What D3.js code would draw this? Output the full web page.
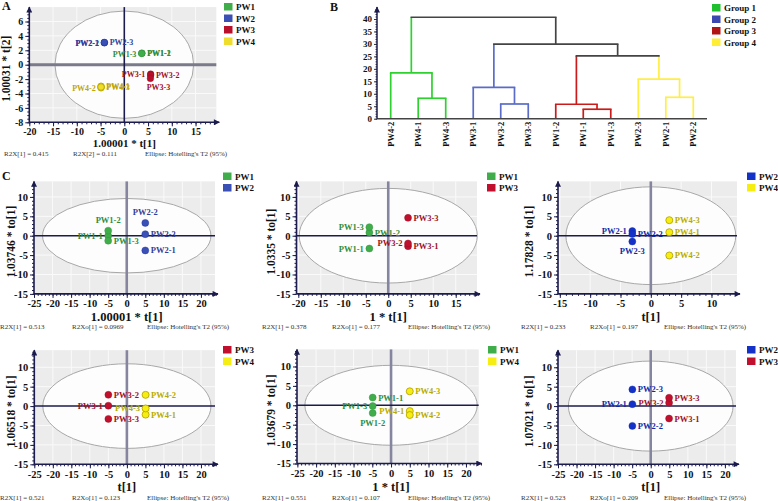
<!DOCTYPE html>
<html><head><meta charset="utf-8">
<script src="https://cdn.jsdelivr.net/npm/d3@7"></script>
<style>body{margin:0;background:#fff}svg{display:block}</style>
</head><body>
<svg id="chart" width="778" height="501"></svg>
<script>
// ---------------- DATA ----------------
const groupNames = ["PW1", "PW2", "PW3", "PW4"];
const dendroGroupNames = ["Group 1", "Group 2", "Group 3", "Group 4"];

// Panel A: PCA scores
const aIds = ["PW1-1","PW1-2","PW1-3","PW2-1","PW2-2","PW2-3","PW3-1","PW3-2","PW3-3","PW4-1","PW4-2","PW4-3"];
const aT1  = [3.7, 3.7, 3.65, -4.2, -4.2, -4.2, 5.55, 5.55, 5.5, -4.9, -4.9, -4.9];
const aT2  = [1.6, 1.6, 1.55, 3.05, 3.05, 3.1, -1.3, -1.45, -1.9, -3.0, -3.2, -3.1];
const aEllipse = [14.6, 7.45];
const aFoot = ["R2X[1] = 0.415", "R2X[2] = 0.111", "Ellipse: Hotelling's T2 (95%)"];

// Panel B: dendrogram
const dendroLeaves = ["PW4-2","PW4-1","PW4-3","PW3-1","PW3-2","PW3-3","PW1-2","PW1-1","PW1-3","PW2-3","PW2-1","PW2-2"];
const leafGroup = {"PW4": 0, "PW3": 1, "PW1": 2, "PW2": 3};
const mergeA = ["PW4-1","PW3-2","PW1-1","PW2-1","PW4-2","PW3-1","PW1-2","PW2-3","m6","m5","m4"];
const mergeB = ["PW4-3","PW3-3","PW1-3","PW2-2","m0","m1","m2","m3","m7","m8","m9"];
const mergeHeight = [8.2, 5.9, 3.8, 8.6, 18.4, 12.6, 5.8, 15.9, 25.2, 29.9, 40.7];

// Panel C: OPLS-DA pairwise scores
const c1Ids = ["PW1-1","PW1-2","PW1-3","PW2-1","PW2-2","PW2-3"];
const c1T  = [-5, -5, -5, 5, 5, 5];
const c1To = [0, 1.3, -1.3, -3.8, 3.3, 0.4];
const c1Ellipse = [22.7, 9.6];
const c1Foot = ["R2X[1] = 0.513", "R2Xo[1] = 0.0969", "Ellipse: Hotelling's T2 (95%)"];

const c2Ids = ["PW1-1","PW1-2","PW1-3","PW3-1","PW3-2","PW3-3"];
const c2T  = [-4.2, -4.2, -4.2, 4.4, 4.4, 4.4];
const c2To = [-3.3, 0.8, 2.2, -2.7, -2.0, 4.6];
const c2Ellipse = [19.8, 12.2];
const c2Foot = ["R2X[1] = 0.378", "R2Xo[1] = 0.177", "Ellipse: Hotelling's T2 (95%)"];

const c3Ids = ["PW2-1","PW2-2","PW2-3","PW4-1","PW4-2","PW4-3"];
const c3T  = [-3.05, -3.05, -3.05, 3.05, 3.05, 3.05];
const c3To = [1.2, 0.45, -1.5, 0.9, -5.1, 4.0];
const c3Ellipse = [14.0, 12.6];
const c3Foot = ["R2X[1] = 0.233", "R2Xo[1] = 0.197", "Ellipse: Hotelling's T2 (95%)"];

const d1Ids = ["PW3-1","PW3-2","PW3-3","PW4-1","PW4-2","PW4-3"];
const d1T  = [-5, -5, -5, 5.05, 5.05, 5.05];
const d1To = [0.1, 2.9, -3.3, -2.2, 2.9, -0.6];
const d1Ellipse = [22.7, 10.9];
const d1Foot = ["R2X[1] = 0.521", "R2Xo[1] = 0.123", "Ellipse: Hotelling's T2 (95%)"];

const d2Ids = ["PW1-1","PW1-2","PW1-3","PW4-1","PW4-2","PW4-3"];
const d2T  = [-4.9, -4.9, -4.9, 5.0, 5.0, 5.0];
const d2To = [2.0, -2.0, -0.2, -1.5, -2.5, 3.6];
const d2Ellipse = [23.0, 10.3];
const d2Foot = ["R2X[1] = 0.551", "R2Xo[1] = 0.107", "Ellipse: Hotelling's T2 (95%)"];

const d3Ids = ["PW2-1","PW2-2","PW2-3","PW3-1","PW3-2","PW3-3"];
const d3T  = [-4.95, -4.95, -4.95, 4.95, 4.95, 4.95];
const d3To = [0.5, -5.1, 4.3, -3.2, 0.85, 2.15];
const d3Ellipse = [22.2, 11.6];
const d3Foot = ["R2X[1] = 0.523", "R2Xo[1] = 0.209", "Ellipse: Hotelling's T2 (95%)"];

// ---------------- STYLE ----------------
const SERIF = "'Liberation Serif','Times New Roman',serif";
const NAVY = "#1b1b4d";
const palA = {PW1: "#3fae4a", PW2: "#3a50b4", PW3: "#b8102a", PW4: "#f0dc2a"};
const palB = {PW1: "#3fae4a", PW2: "#1432c8", PW3: "#c0102e", PW4: "#f6ee12"};
const txtA = {PW1: "#2e8c3a", PW2: "#30409c", PW3: "#a00e22", PW4: "#c2a600"};
const txtB = {PW1: "#2e8c3a", PW2: "#1228a8", PW3: "#a00e22", PW4: "#b5ab00"};
const strokeCol = {PW1: "#2e8c3a", PW2: "#1228a8", PW3: "#900a20", PW4: "#b8a800"};

const svg = d3.select("#chart");
const defs = svg.append("defs");
defs.append("marker").attr("id", "arrow").attr("viewBox", "0 0 10 10")
  .attr("refX", 9).attr("refY", 5).attr("markerWidth", 7).attr("markerHeight", 6)
  .attr("markerUnits", "userSpaceOnUse").attr("orient", "auto")
  .append("path").attr("d", "M0,0 L10,5 L0,10 Z").attr("fill", NAVY);

function range(a, b, s) { const r = []; for (let v = a; v <= b + 1e-9; v += s) r.push(+v.toFixed(4)); return r; }

function drawScatter(p) {
  const g = svg.append("g");
  const x = d3.scaleLinear().domain(p.xDom).range(p.xRange);
  const y = d3.scaleLinear().domain(p.yDom).range(p.yRange);
  const [x0, x1] = p.xRange, [y0, y1] = p.yRange;
  g.append("rect").attr("x", x0).attr("y", y1).attr("width", x1 - x0 - 3).attr("height", y0 - y1).attr("fill", "#ececec");
  p.xTicks.forEach(t => { if (x(t) > x0 + 1) g.append("line").attr("x1", x(t)).attr("x2", x(t)).attr("y1", y1).attr("y2", y0).attr("stroke", "#fafafa").attr("stroke-width", 1); });
  p.yTicks.forEach(t => { if (y(t) < y0 - 1) g.append("line").attr("x1", x0).attr("x2", x1 - 3).attr("y1", y(t)).attr("y2", y(t)).attr("stroke", "#fafafa").attr("stroke-width", 1); });
  g.append("ellipse").attr("cx", x(0)).attr("cy", y(0))
    .attr("rx", x(p.ellipse[0]) - x(0)).attr("ry", y(0) - y(p.ellipse[1]))
    .attr("fill", "#fdfdfd").attr("stroke", "#a8a8a8").attr("stroke-width", 1);
  // zero lines
  if (p.style === "A") {
    g.append("line").attr("x1", x0).attr("x2", x1 - 3).attr("y1", y(0)).attr("y2", y(0)).attr("stroke", "#7a7a8a").attr("stroke-width", 3);
    g.append("line").attr("x1", x(0)).attr("x2", x(0)).attr("y1", y0).attr("y2", y1).attr("stroke", NAVY).attr("stroke-width", 1.6);
  } else {
    g.append("line").attr("x1", x(0)).attr("x2", x(0)).attr("y1", y0).attr("y2", y1).attr("stroke", "#8585a0").attr("stroke-width", 2.6);
    g.append("line").attr("x1", x0).attr("x2", x1 - 3).attr("y1", y(0)).attr("y2", y(0)).attr("stroke", NAVY).attr("stroke-width", 1.5);
  }
  // axes
  const fmt = d => String(d);
  const xa = g.append("g").attr("transform", `translate(0,${y0})`)
    .call(d3.axisBottom(x).tickValues(p.xTicks).tickSize(4).tickPadding(2).tickFormat(fmt));
  const xm = g.append("g").attr("transform", `translate(0,${y0})`)
    .call(d3.axisBottom(x).tickValues(p.xMinor).tickSize(2).tickFormat(""));
  const ya = g.append("g").attr("transform", `translate(${x0},0)`)
    .call(d3.axisLeft(y).tickValues(p.yTicks).tickSize(4).tickPadding(2).tickFormat(fmt));
  const ym = g.append("g").attr("transform", `translate(${x0},0)`)
    .call(d3.axisLeft(y).tickValues(p.yMinor).tickSize(2).tickFormat(""));
  [xa, xm, ya, ym].forEach(a => {
    a.select(".domain").remove();
    a.selectAll("line").attr("stroke", NAVY).attr("stroke-width", 1);
    a.selectAll("text").attr("font-family", SERIF).attr("font-weight", "bold")
      .attr("font-size", p.tickFont).attr("fill", "#111");
  });
  g.append("line").attr("x1", x0).attr("x2", x1).attr("y1", y0).attr("y2", y0)
    .attr("stroke", NAVY).attr("stroke-width", 1.6).attr("marker-end", "url(#arrow)");
  g.append("line").attr("x1", x0).attr("x2", x0).attr("y1", y0).attr("y2", y1)
    .attr("stroke", NAVY).attr("stroke-width", 1.6).attr("marker-end", "url(#arrow)");
  // points
  const pts = p.ids.map((id, i) => ({id, grp: id.slice(0, 3), t: p.xs[i], u: p.ys[i], side: p.sides[i]}));
  pts.forEach(d => {
    g.append("circle").attr("cx", x(d.t)).attr("cy", y(d.u)).attr("r", p.r)
      .attr("fill", p.pal[d.grp]).attr("stroke", strokeCol[d.grp]).attr("stroke-width", d.grp === "PW4" ? 0.9 : 0.4);
  });
  pts.forEach(d => {
    let dx = 0, dy = 0, anchor = "middle";
    const o = p.r + 2;
    if (d.side === "r") { dx = o; dy = 3; anchor = "start"; }
    else if (d.side === "l") { dx = -o; dy = 3; anchor = "end"; }
    else if (d.side === "a") { dx = 0; dy = -o - 2; anchor = "middle"; }
    else if (d.side === "b") { dx = 0; dy = o + 7; anchor = "middle"; }
    else if (d.side === "br") { dx = 8; dy = o + 6; anchor = "middle"; }
    g.append("text").attr("x", x(d.t) + dx).attr("y", y(d.u) + dy).attr("text-anchor", anchor)
      .attr("font-family", SERIF).attr("font-weight", "bold").attr("font-size", p.labFont)
      .attr("fill", p.txt[d.grp]).text(d.id);
  });
  // legend
  p.legend.forEach((k, i) => {
    g.append("rect").attr("x", p.legX).attr("y", p.legY + i * 11.5).attr("width", 8.5).attr("height", 7.5).attr("fill", p.pal[k]);
    g.append("text").attr("x", p.legX + 12).attr("y", p.legY + i * 11.5 + 7).attr("font-family", SERIF)
      .attr("font-weight", "bold").attr("font-size", 9).attr("fill", "#111").text(k);
  });
  // titles
  g.append("text").attr("transform", `translate(${p.yLabX},${(y0 + y1) / 2 + 4}) rotate(-90)`).attr("text-anchor", "middle")
    .attr("font-family", SERIF).attr("font-weight", "bold").attr("font-size", 11.5).attr("fill", "#111").text(p.yLabel);
  g.append("text").attr("x", x(0)).attr("y", p.xLabY).attr("text-anchor", "middle")
    .attr("font-family", SERIF).attr("font-weight", "bold").attr("font-size", p.xLabFont).attr("fill", "#111").text(p.xLabel);
  p.foot.forEach((t, i) => {
    g.append("text").attr("x", p.footX[i]).attr("y", p.footY).attr("font-family", SERIF)
      .attr("font-size", 7).attr("fill", "#333").text(t);
  });
}

// Panel A
drawScatter({
  style: "A", xDom: [-20, 20], xRange: [29.3, 219.3], yDom: [-8, 8], yRange: [122.3, 7.1],
  xTicks: range(-20, 15, 5), xMinor: range(-20, 19, 1), yTicks: range(-8, 6, 2), yMinor: range(-8, 7.5, 0.5),
  ids: aIds, xs: aT1, ys: aT2, sides: ["r","r","l","l","l","r","l","r","br","r","l","r"],
  ellipse: aEllipse, pal: palA, txt: txtA, r: 3.3, labFont: 8, tickFont: 10,
  legend: groupNames, legX: 224, legY: 3,
  yLabel: "1.00031 * t[2]", yLabX: 10, xLabel: "1.00001 * t[1]", xLabY: 146.5, xLabFont: 11,
  foot: aFoot, footX: [4, 73, 145], footY: 156
});

const cTicksY = range(-15, 10, 5), cMinorY = range(-15, 13, 1);
// Row C
drawScatter({
  style: "C", xDom: [-25, 24.6], xRange: [34, 218], yDom: [-15, 14], yRange: [293.9, 181.4],
  xTicks: range(-25, 20, 5), xMinor: range(-25, 24, 1), yTicks: cTicksY, yMinor: cMinorY,
  ids: c1Ids, xs: c1T, ys: c1To, sides: ["l","a","r","r","a","r"],
  ellipse: c1Ellipse, pal: palA, txt: txtA, r: 3.5, labFont: 8.5, tickFont: 10.5,
  legend: ["PW1", "PW2"], legX: 223, legY: 172.5,
  yLabel: "1.03746 * to[1]", yLabX: 15, xLabel: "1.00001 * t[1]", xLabY: 321, xLabFont: 12.5,
  foot: c1Foot, footX: [0, 72, 147], footY: 328.5
});
drawScatter({
  style: "C", xDom: [-20.4, 20.4], xRange: [296.5, 480], yDom: [-15, 14], yRange: [293.9, 181.4],
  xTicks: range(-20, 15, 5), xMinor: range(-20, 20, 1), yTicks: cTicksY, yMinor: cMinorY,
  ids: c2Ids, xs: c2T, ys: c2To, sides: ["l","r","l","r","l","r"],
  ellipse: c2Ellipse, pal: palB, txt: txtB, r: 3.5, labFont: 8.5, tickFont: 10.5,
  legend: ["PW1", "PW3"], legX: 487, legY: 172.5,
  yLabel: "1.0335 * to[1]", yLabX: 275, xLabel: "1 * t[1]", xLabY: 321, xLabFont: 12.5,
  foot: c2Foot, footX: [262, 332, 408], footY: 328.5
});
drawScatter({
  style: "C", xDom: [-15.3, 14.7], xRange: [558, 740], yDom: [-15, 14], yRange: [293.9, 181.4],
  xTicks: range(-15, 10, 5), xMinor: range(-15, 14, 1), yTicks: cTicksY, yMinor: cMinorY,
  ids: c3Ids, xs: c3T, ys: c3To, sides: ["l","r","b","r","r","r"],
  ellipse: c3Ellipse, pal: palB, txt: txtB, r: 3.5, labFont: 8.5, tickFont: 10.5,
  legend: ["PW2", "PW4"], legX: 747, legY: 172.5,
  yLabel: "1.17828 * to[1]", yLabX: 533, xLabel: "t[1]", xLabY: 321, xLabFont: 12.5,
  foot: c3Foot, footX: [521, 590, 664], footY: 328.5
});
// Row D
drawScatter({
  style: "C", xDom: [-25, 24.6], xRange: [34.3, 218], yDom: [-15, 14.4], yRange: [464.3, 350.2],
  xTicks: range(-25, 20, 5), xMinor: range(-25, 24, 1), yTicks: cTicksY, yMinor: range(-15, 14, 1),
  ids: d1Ids, xs: d1T, ys: d1To, sides: ["l","r","r","r","r","l"],
  ellipse: d1Ellipse, pal: palB, txt: txtB, r: 3.5, labFont: 8.5, tickFont: 10.5,
  legend: ["PW3", "PW4"], legX: 223, legY: 346,
  yLabel: "1.06518 * to[1]", yLabX: 15, xLabel: "t[1]", xLabY: 491, xLabFont: 12.5,
  foot: d1Foot, footX: [0, 72, 147], footY: 499.5
});
drawScatter({
  style: "C", xDom: [-25.1, 24.2], xRange: [297, 481.7], yDom: [-15, 14.4], yRange: [463.5, 349.4],
  xTicks: range(-25, 20, 5), xMinor: range(-25, 24, 1), yTicks: cTicksY, yMinor: range(-15, 14, 1),
  ids: d2Ids, xs: d2T, ys: d2To, sides: ["r","b","l","l","r","r"],
  ellipse: d2Ellipse, pal: palB, txt: txtB, r: 3.5, labFont: 8.5, tickFont: 10.5,
  legend: ["PW1", "PW4"], legX: 488, legY: 346,
  yLabel: "1.03679 * to[1]", yLabX: 275, xLabel: "1 * t[1]", xLabY: 491, xLabFont: 12.5,
  foot: d2Foot, footX: [262, 332, 408], footY: 499.5
});
drawScatter({
  style: "C", xDom: [-25, 23.8], xRange: [558, 739], yDom: [-15, 14.4], yRange: [464.3, 350.2],
  xTicks: range(-25, 20, 5), xMinor: range(-25, 23, 1), yTicks: cTicksY, yMinor: range(-15, 14, 1),
  ids: d3Ids, xs: d3T, ys: d3To, sides: ["l","r","r","r","l","r"],
  ellipse: d3Ellipse, pal: palB, txt: txtB, r: 3.5, labFont: 8.5, tickFont: 10.5,
  legend: ["PW2", "PW3"], legX: 747, legY: 346,
  yLabel: "1.07021 * to[1]", yLabX: 533, xLabel: "t[1]", xLabY: 491, xLabFont: 12.5,
  foot: d3Foot, footX: [521, 590, 664], footY: 499.5
});

// ---------------- Panel B: dendrogram ----------------
(function () {
  const g = svg.append("g");
  const gCol = ["#2ed12e", "#5a6cc8", "#cc1a1a", "#ffee44"];
  const legCol = ["#1fbf2f", "#3a48b0", "#b01414", "#ffee33"];
  const x = d3.scalePoint().domain(dendroLeaves).range([390.7, 693.3]);
  const y = d3.scaleLinear().domain([0, 40]).range([118.7, 19]);
  const nodes = {};
  dendroLeaves.forEach(l => nodes[l] = {x: x(l), h: 0, grp: leafGroup[l.slice(0, 3)]});
  mergeA.forEach((a, i) => {
    const A = nodes[a], B = nodes[mergeB[i]], h = mergeHeight[i];
    const grp = A.grp === B.grp ? A.grp : null;
    const col = c => c === null ? "#444" : gCol[c];
    g.append("path").attr("d", `M${A.x},${y(A.h)}V${y(h)}`).attr("stroke", col(A.grp)).attr("stroke-width", 1.7).attr("fill", "none");
    g.append("path").attr("d", `M${B.x},${y(B.h)}V${y(h)}`).attr("stroke", col(B.grp)).attr("stroke-width", 1.7).attr("fill", "none");
    g.append("path").attr("d", `M${A.x - 0.8},${y(h)}H${B.x + 0.8}`).attr("stroke", col(grp)).attr("stroke-width", 1.7).attr("fill", "none");
    nodes["m" + i] = {x: (A.x + B.x) / 2, h, grp};
  });
  const ya = g.append("g").attr("transform", "translate(377,0)")
    .call(d3.axisLeft(y).tickValues(range(0, 40, 5)).tickSize(3).tickPadding(2).tickFormat(d => String(d)));
  const ym = g.append("g").attr("transform", "translate(377,0)")
    .call(d3.axisLeft(y).tickValues(range(0, 44, 1)).tickSize(1.5).tickFormat(""));
  [ya, ym].forEach(a => {
    a.select(".domain").remove();
    a.selectAll("line").attr("stroke", "#333");
    a.selectAll("text").attr("font-family", SERIF).attr("font-weight", "bold").attr("font-size", 9).attr("fill", "#111");
  });
  g.append("line").attr("x1", 377).attr("x2", 707).attr("y1", y(0)).attr("y2", y(0)).attr("stroke", "#444").attr("stroke-width", 1.5);
  g.append("line").attr("x1", 377).attr("x2", 377).attr("y1", y(0)).attr("y2", 7).attr("stroke", NAVY).attr("stroke-width", 1.5).attr("marker-end", "url(#arrow)");
  dendroLeaves.forEach(l => {
    g.append("text").attr("transform", `translate(${x(l) + 3},${y(0) + 3}) rotate(-90)`).attr("text-anchor", "end")
      .attr("font-family", SERIF).attr("font-weight", "bold").attr("font-size", 8.5).attr("fill", "#111").text(l);
  });
  dendroGroupNames.forEach((k, i) => {
    g.append("rect").attr("x", 712).attr("y", 4 + i * 11.5).attr("width", 8.5).attr("height", 7.5).attr("fill", legCol[i]);
    g.append("text").attr("x", 724).attr("y", 11 + i * 11.5).attr("font-family", SERIF).attr("font-weight", "bold")
      .attr("font-size", 9).attr("fill", "#111").text(k);
  });
})();

// Panel letters
[["A", 2, 10], ["B", 330, 11], ["C", 2, 180]].forEach(([t, x, y]) => {
  svg.append("text").attr("x", x).attr("y", y).attr("font-family", SERIF).attr("font-weight", "bold")
    .attr("font-size", 12).attr("fill", "#111").text(t);
});
</script>
</body></html>
